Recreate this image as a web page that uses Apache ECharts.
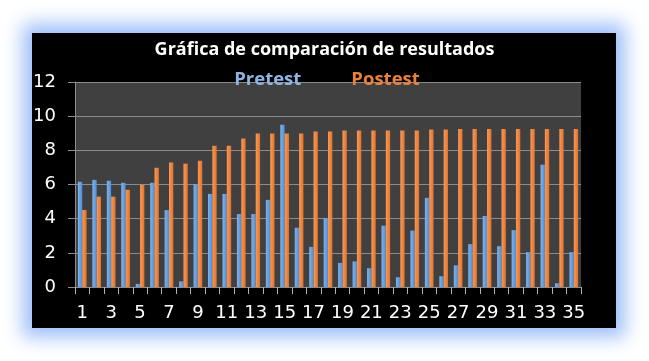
<!DOCTYPE html>
<html>
<head>
<meta charset="utf-8">
<script src="https://cdn.jsdelivr.net/npm/echarts@6/dist/echarts.min.js"></script>
<style>
html,body{margin:0;padding:0;background:#fff;width:649px;height:361px;overflow:hidden;}
#box{position:absolute;left:32px;top:33px;width:584px;height:295px;background:#000;
box-shadow:0 0 18px 9px rgba(150,185,248,0.95);}
#chart{position:absolute;left:0;top:0;width:649px;height:361px;}
</style>
</head>
<body>
<div id="box"></div>
<div id="chart"></div>
<script>
const categories = ['1','2','3','4','5','6','7','8','9','10','11','12','13','14','15','16','17','18','19','20','21','22','23','24','25','26','27','28','29','30','31','32','33','34','35'];
const pretest = [6.16,6.27,6.22,6.1,0.18,6.1,4.5,0.33,6.02,5.45,5.45,4.27,4.27,5.1,9.5,3.47,2.35,4.04,1.41,1.5,1.1,3.59,0.57,3.3,5.22,0.63,1.27,2.51,4.16,2.39,3.33,2.04,7.16,0.22,2.04];
const postest = [4.51,5.29,5.29,5.69,5.98,6.98,7.29,7.22,7.39,8.27,8.27,8.69,8.98,8.98,8.98,8.98,9.1,9.1,9.16,9.16,9.16,9.16,9.16,9.16,9.22,9.22,9.25,9.25,9.25,9.25,9.25,9.25,9.25,9.25,9.25];
const yTicks = [0,2,4,6,8,10,12];

const chart = echarts.init(document.getElementById('chart'), null, {renderer:'canvas'});
const tfont = '"Open Sans", Lato, sans-serif';
const afont = '"DejaVu Sans", sans-serif';
chart.setOption({
  backgroundColor: 'transparent',
  animation: false,
  title: {
    text: 'Gráfica de comparación de resultados',
    left: 'center', top: 36,
    textStyle: {color:'#ffffff', fontSize:18, fontWeight:'bold', fontFamily:tfont}
  },
  legend: {
    top: 65, left: 'center',
    itemWidth: 0, itemHeight: 0, itemGap: 45, icon: 'rect',
    data: [
      {name:'Pretest', textStyle:{color:'#8db4e2'}},
      {name:'Postest', textStyle:{color:'#e8803a'}}
    ],
    textStyle: {fontSize:18.5, fontWeight:'bold', fontFamily:tfont}
  },
  grid: {left:75, right:68, top:82, bottom:74, show:true, backgroundColor:'#404040', borderWidth:0},
  xAxis: {
    type:'category', data: categories,
    axisLine:{lineStyle:{color:'#8c8c8c', width:1}},
    axisTick:{show:true, interval:0, length:7, lineStyle:{color:'#b0b0b0'}},
    axisLabel:{color:'#ffffff', fontSize:18, fontFamily:afont, interval:1, margin:17}
  },
  yAxis: {
    type:'value', min: yTicks[0], max: yTicks[yTicks.length-1], interval: 2,
    axisLine:{show:true, lineStyle:{color:'#8c8c8c'}},
    axisTick:{show:true, length:7, lineStyle:{color:'#8c8c8c'}},
    splitLine:{lineStyle:{color:'#8c8c8c', width:1}},
    axisLabel:{color:'#ffffff', fontSize:18, fontFamily:afont, margin:19}
  },
  series: [
    {name:'Pretest', type:'bar', data: pretest, barGap:'0%', barCategoryGap:'40%',
     itemStyle:{color:new echarts.graphic.LinearGradient(0,0,1,0,[{offset:0,color:'#7fb2ec'},{offset:1,color:'#4e8fd6'}])}},
    {name:'Postest', type:'bar', data: postest, barGap:'0%', barCategoryGap:'40%',
     itemStyle:{color:new echarts.graphic.LinearGradient(0,0,1,0,[{offset:0,color:'#f59a5a'},{offset:1,color:'#e67228'}])}}
  ]
});
</script>
</body>
</html>
